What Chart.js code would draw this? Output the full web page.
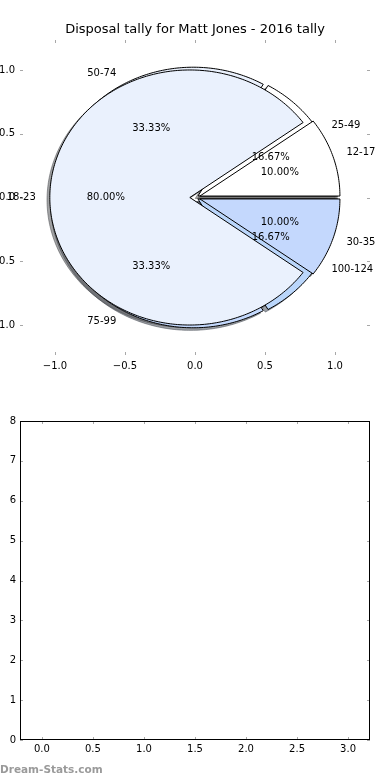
<!DOCTYPE html>
<html>
<head>
<meta charset="utf-8">
<script src="https://cdn.jsdelivr.net/npm/chart.js@4.4.0/dist/chart.umd.min.js"></script>
<style>
  html, body { margin: 0; padding: 0; background: #fff; }
  #wrap { position: relative; width: 390px; height: 780px; }
  .box { position: absolute; left: 0; width: 390px; height: 390px; }
  #mark { position: absolute; left: 0; top: 763px; font: bold 10.5px "DejaVu Sans"; color: #9a9a9a; }
</style>
</head>
<body>
<div id="wrap">
  <div class="box" style="top:0"><canvas id="pie"></canvas></div>
  <div class="box" style="top:390px"><canvas id="empty"></canvas></div>
  <div id="mark">Dream-Stats.com</div>
</div>
<script>
const chartTitle = 'Disposal tally for Matt Jones - 2016 tally';

// first pie (drawn underneath)
const outerLabels = ['25-49', '50-74', '75-99', '100-124'];
const outerValues = [1, 2, 2, 1];
const outerColors = ['#ffffff', '#eaf1fd', '#c4d9fd', '#bad6fb'];

// second pie (drawn on top)
const innerLabels = ['12-17', '18-23', '30-35'];
const innerValues = [1, 8, 1];
const innerColors = ['#ffffff', '#eaf1fd', '#c4d8fd'];

const pieTicksX = [-1, -0.5, 0, 0.5, 1];
const pieTicksY = [-1, -0.5, 0, 0.5, 1];
const emptyTicksX = [0, 0.5, 1, 1.5, 2, 2.5, 3];
const emptyTicksY = [0, 1, 2, 3, 4, 5, 6, 7, 8];

const FONT = 'DejaVu Sans';
Chart.defaults.font.family = FONT;
Chart.defaults.color = '#000';

const fmt1 = v => v.toFixed(1).replace('-', '\u2212');

function hexRgb(h) {
  return [1, 3, 5].map(i => parseInt(h.substr(i, 2), 16));
}

// tick marks drawn inside the axes box, on all four sides (matplotlib classic)
const innerTicks = {
  id: 'innerTicks',
  afterDraw(chart, args, opts) {
    const { ctx, chartArea: a, scales } = chart;
    ctx.save();
    ctx.strokeStyle = '#a8a8a8';
    ctx.lineWidth = 1;
    ctx.beginPath();
    scales.x.ticks.forEach(t => {
      const px = Math.round(scales.x.getPixelForValue(t.value)) + 0.5;
      ctx.moveTo(px, a.top); ctx.lineTo(px, a.top + 3);
      ctx.moveTo(px, a.bottom); ctx.lineTo(px, a.bottom - 3);
    });
    scales.y.ticks.forEach(t => {
      const py = Math.round(scales.y.getPixelForValue(t.value)) + 0.5;
      ctx.moveTo(a.left, py); ctx.lineTo(a.left + 3, py);
      ctx.moveTo(a.right, py); ctx.lineTo(a.right - 3, py);
    });
    ctx.stroke();
    if (opts.frame) {
      ctx.strokeStyle = '#000';
      ctx.strokeRect(Math.round(a.left) + 0.5, Math.round(a.top) + 0.5,
        Math.round(a.right - a.left) - 1, Math.round(a.bottom - a.top) - 1);
    }
    if (opts.title) {
      ctx.fillStyle = '#000';
      ctx.font = '13px "' + FONT + '"';
      ctx.textAlign = 'center';
      ctx.textBaseline = 'middle';
      ctx.fillText(opts.title, (a.left + a.right) / 2, 30);
    }
    ctx.restore();
  }
};

function wedges(values, colors, labels, explode) {
  const total = values.reduce((s, v) => s + v, 0);
  let cum = 0;
  return values.map((v, i) => {
    const t1 = cum / total * 2 * Math.PI;
    cum += v;
    const t2 = cum / total * 2 * Math.PI;
    const tm = (t1 + t2) / 2;
    return {
      t1, t2, tm, color: colors[i], label: labels[i],
      pct: (v / total * 100).toFixed(2) + '%',
      cx: explode * Math.cos(tm), cy: explode * Math.sin(tm)
    };
  });
}

function tracePath(ctx, sx, sy, w, ox, oy) {
  const n = Math.max(2, Math.ceil((w.t2 - w.t1) / (Math.PI / 180)));
  ctx.beginPath();
  ctx.moveTo(sx.getPixelForValue(w.cx + ox), sy.getPixelForValue(w.cy + oy));
  for (let k = 0; k <= n; k++) {
    const t = w.t1 + (w.t2 - w.t1) * k / n;
    ctx.lineTo(sx.getPixelForValue(w.cx + ox + Math.cos(t)),
               sy.getPixelForValue(w.cy + oy + Math.sin(t)));
  }
  ctx.closePath();
}

const piePlugin = {
  id: 'pies',
  afterDatasetsDraw(chart) {
    const { ctx, scales: { x: sx, y: sy } } = chart;
    const pies = [
      wedges(outerValues, outerColors, outerLabels, 0.025),
      wedges(innerValues, innerColors, innerLabels, 0.037)
    ];
    ctx.save();
    // shadows behind every wedge
    pies.forEach(p => p.forEach(w => {
      const c = hexRgb(w.color).map(v => Math.round(v * 0.3));
      tracePath(ctx, sx, sy, w, -0.02, -0.02);
      ctx.fillStyle = `rgba(${c[0]},${c[1]},${c[2]},0.5)`;
      ctx.strokeStyle = ctx.fillStyle;
      ctx.lineWidth = 1;
      ctx.fill();
      ctx.stroke();
    }));
    pies.forEach(p => p.forEach(w => {
      tracePath(ctx, sx, sy, w, 0, 0);
      ctx.fillStyle = w.color;
      ctx.fill();
      ctx.lineWidth = 1;
      ctx.strokeStyle = '#000';
      ctx.lineJoin = 'miter';
      ctx.stroke();
    }));
    ctx.fillStyle = '#000';
    ctx.font = '10px "' + FONT + '"';
    ctx.textBaseline = 'middle';
    pies.forEach(p => p.forEach(w => {
      const xt = w.cx + 1.1 * Math.cos(w.tm);
      const yt = w.cy + 1.1 * Math.sin(w.tm);
      ctx.textAlign = xt > 0 ? 'left' : 'right';
      ctx.fillText(w.label, sx.getPixelForValue(xt), sy.getPixelForValue(yt));
      ctx.textAlign = 'center';
      ctx.fillText(w.pct, sx.getPixelForValue(w.cx + 0.6 * Math.cos(w.tm)),
                          sy.getPixelForValue(w.cy + 0.6 * Math.sin(w.tm)));
    }));
    ctx.restore();
  }
};

function axis(min, max, ticks, size, pad, fitKey) {
  return {
    type: 'linear', min, max,
    grid: { display: false, drawTicks: false },
    border: { display: false },
    ticks: { font: { size: 10 }, color: '#000', padding: pad, callback: v => fmt1(v) },
    afterBuildTicks: s => { s.ticks = ticks.map(v => ({ value: v })); },
    afterFit: s => { s[fitKey] = size; }
  };
}

new Chart(document.getElementById('pie'), {
  type: 'scatter',
  data: { datasets: [] },
  plugins: [piePlugin, innerTicks],
  options: {
    responsive: true, maintainAspectRatio: false, animation: false,
    layout: { padding: { left: 0, right: 20, top: 40, bottom: 0 } },
    plugins: {
      legend: { display: false }, tooltip: { enabled: false },
      innerTicks: { frame: false, title: chartTitle }
    },
    scales: {
      x: axis(-1.25, 1.25, pieTicksX, 35, 5, 'height'),
      y: axis(-1.235, 1.235, pieTicksY, 20, 5, 'width')
    }
  }
});

const ex = axis(-0.215, 3.215, emptyTicksX, 40, 3, 'height');
const ey = axis(0, 8, emptyTicksY, 20, 4, 'width');
ey.ticks.callback = v => String(v);

new Chart(document.getElementById('empty'), {
  type: 'scatter',
  data: { datasets: [] },
  plugins: [innerTicks],
  options: {
    responsive: true, maintainAspectRatio: false, animation: false,
    layout: { padding: { left: 0, right: 20, top: 31, bottom: 0 } },
    plugins: {
      legend: { display: false }, tooltip: { enabled: false },
      innerTicks: { frame: true }
    },
    scales: { x: ex, y: ey }
  }
});
</script>
</body>
</html>
